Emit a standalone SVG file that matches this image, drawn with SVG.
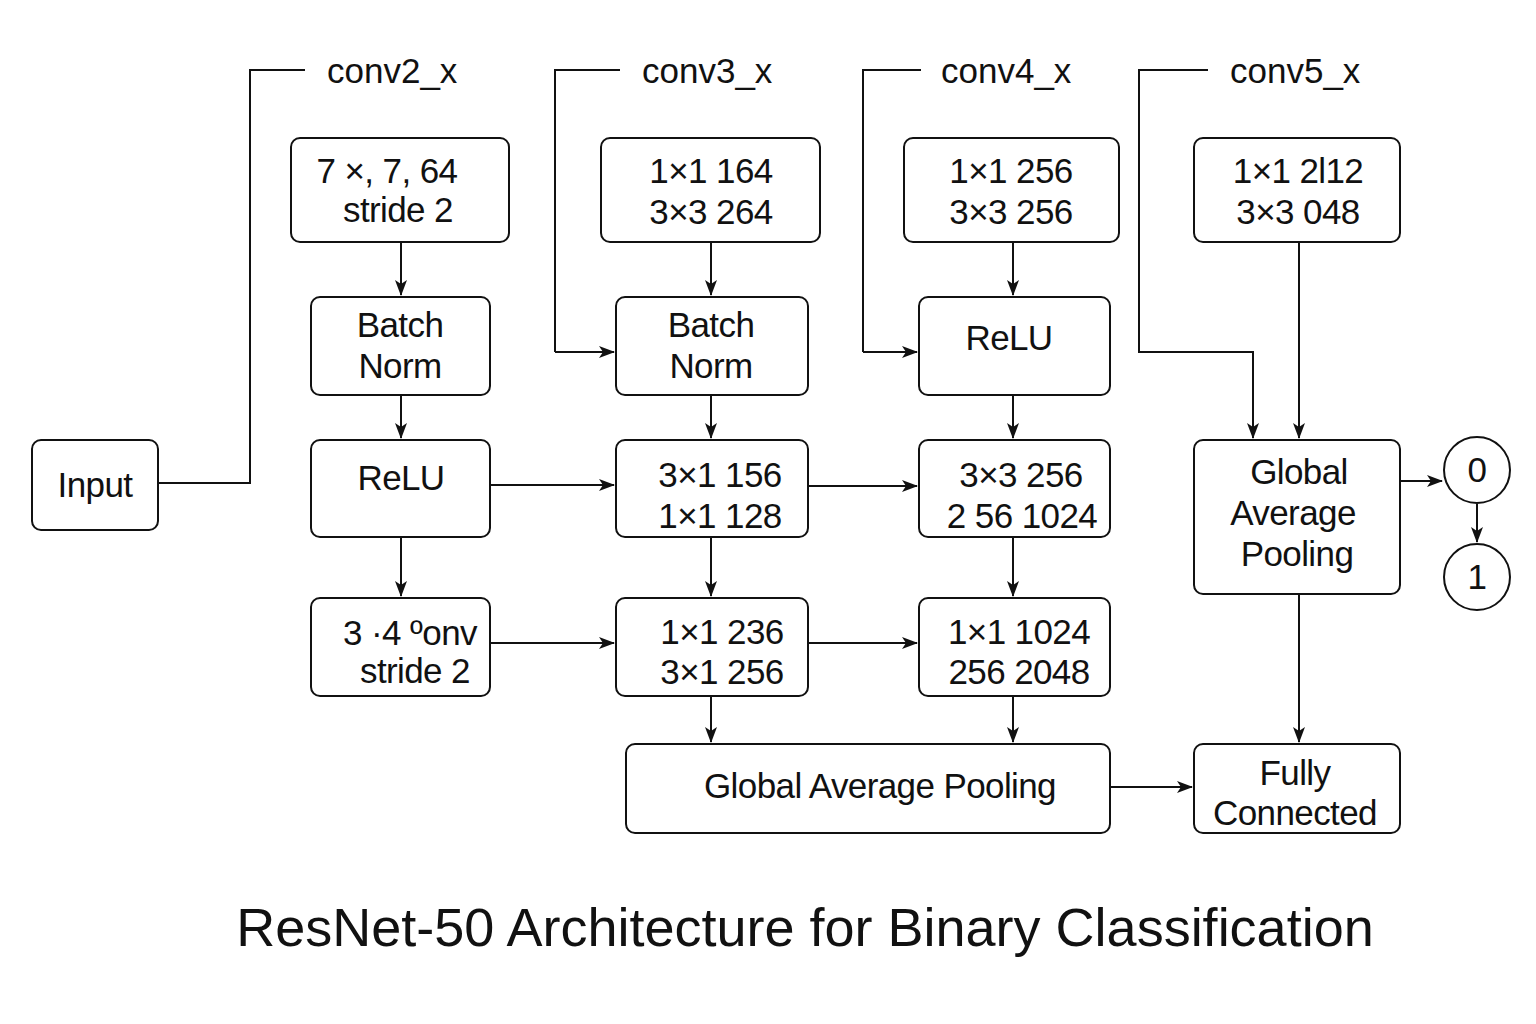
<svg xmlns="http://www.w3.org/2000/svg" width="1536" height="1024" viewBox="0 0 1536 1024">
<defs>
<marker id="ah" viewBox="0 0 16 12" refX="15" refY="6" markerWidth="16" markerHeight="12" markerUnits="userSpaceOnUse" orient="auto">
<path d="M0,0 L16,6 L0,12 L4,6 Z" fill="#111"/>
</marker>
<style>
.box{fill:#fff;stroke:#111;stroke-width:2}
.t{font-family:"Liberation Sans",Arial,sans-serif;font-size:35px;letter-spacing:-0.6px;fill:#111;text-anchor:middle}
.h{font-family:"Liberation Sans",Arial,sans-serif;font-size:35px;fill:#111}
.ln{fill:none;stroke:#111;stroke-width:2}
.ar{fill:none;stroke:#111;stroke-width:2;marker-end:url(#ah)}
.title{font-family:"Liberation Sans",Arial,sans-serif;font-size:54px;fill:#111;text-anchor:middle}
</style>
</defs>
<rect width="1536" height="1024" fill="#fff"/>

<g id="connectors">
<polyline class="ln" points="158,483 250,483 250,70 305,70"/>
<polyline class="ln" points="620,70 555,70 555,352"/>
<polyline class="ar" points="555,352 614,352"/>
<polyline class="ln" points="921,70 863,70 863,352"/>
<polyline class="ar" points="863,352 917,352"/>
<polyline class="ar" points="1208,70 1139,70 1139,352 1253,352 1253,438"/>
<line class="ar" x1="401" y1="242" x2="401" y2="295"/>
<line class="ar" x1="401" y1="395" x2="401" y2="438"/>
<line class="ar" x1="401" y1="537" x2="401" y2="596"/>
<line class="ar" x1="711" y1="242" x2="711" y2="295"/>
<line class="ar" x1="711" y1="395" x2="711" y2="438"/>
<line class="ar" x1="711" y1="537" x2="711" y2="596"/>
<line class="ar" x1="711" y1="696" x2="711" y2="742"/>
<line class="ar" x1="1013" y1="242" x2="1013" y2="295"/>
<line class="ar" x1="1013" y1="395" x2="1013" y2="438"/>
<line class="ar" x1="1013" y1="537" x2="1013" y2="596"/>
<line class="ar" x1="1013" y1="696" x2="1013" y2="742"/>
<line class="ar" x1="1299" y1="242" x2="1299" y2="438"/>
<line class="ar" x1="1299" y1="594" x2="1299" y2="742"/>
<line class="ar" x1="490" y1="485" x2="614" y2="485"/>
<line class="ar" x1="808" y1="486" x2="917" y2="486"/>
<line class="ar" x1="490" y1="643" x2="614" y2="643"/>
<line class="ar" x1="808" y1="643" x2="917" y2="643"/>
<line class="ar" x1="1110" y1="787" x2="1192" y2="787"/>
<line class="ar" x1="1400" y1="481" x2="1442" y2="481"/>
<line class="ar" x1="1477" y1="504" x2="1477" y2="542"/>
</g>

<g id="headers">
<text class="h" x="327" y="83">conv2_x</text>
<text class="h" x="642" y="83">conv3_x</text>
<text class="h" x="941" y="83">conv4_x</text>
<text class="h" x="1230" y="83">conv5_x</text>
</g>

<g id="input"><rect class="box" x="32" y="440" width="126" height="90" rx="9"/><text class="t" x="95" y="497">Input</text></g>

<g id="c2_conv"><rect class="box" x="291" y="138" width="218" height="104" rx="9"/><text class="t" x="387" y="183">7 ×, 7, 64</text><text class="t" x="398" y="222">stride 2</text></g>
<g id="c2_bn"><rect class="box" x="311" y="297" width="179" height="98" rx="9"/><text class="t" x="400" y="337">Batch</text><text class="t" x="400" y="378">Norm</text></g>
<g id="c2_relu"><rect class="box" x="311" y="440" width="179" height="97" rx="9"/><text class="t" x="401" y="490">ReLU</text></g>
<g id="c2_pool"><rect class="box" x="311" y="598" width="179" height="98" rx="9"/><text class="t" x="410" y="645">3 ·4 ºonv</text><text class="t" x="415" y="683">stride 2</text></g>

<g id="c3_top"><rect class="box" x="601" y="138" width="219" height="104" rx="9"/><text class="t" x="711" y="183">1×1 164</text><text class="t" x="711" y="224">3×3 264</text></g>
<g id="c3_bn"><rect class="box" x="616" y="297" width="192" height="98" rx="9"/><text class="t" x="711" y="337">Batch</text><text class="t" x="711" y="378">Norm</text></g>
<g id="c3_b1"><rect class="box" x="616" y="440" width="192" height="97" rx="9"/><text class="t" x="720" y="487">3×1 156</text><text class="t" x="720" y="528">1×1 128</text></g>
<g id="c3_b2"><rect class="box" x="616" y="598" width="192" height="98" rx="9"/><text class="t" x="722" y="644">1×1 236</text><text class="t" x="722" y="684">3×1 256</text></g>

<g id="c4_top"><rect class="box" x="904" y="138" width="215" height="104" rx="9"/><text class="t" x="1011" y="183">1×1 256</text><text class="t" x="1011" y="224">3×3 256</text></g>
<g id="c4_relu"><rect class="box" x="919" y="297" width="191" height="98" rx="9"/><text class="t" x="1009" y="350">ReLU</text></g>
<g id="c4_b1"><rect class="box" x="919" y="440" width="191" height="97" rx="9"/><text class="t" x="1021" y="487">3×3 256</text><text class="t" x="1022" y="528">2 56 1024</text></g>
<g id="c4_b2"><rect class="box" x="919" y="598" width="191" height="98" rx="9"/><text class="t" x="1019" y="644">1×1 1024</text><text class="t" x="1019" y="684">256 2048</text></g>

<g id="c5_top"><rect class="box" x="1194" y="138" width="206" height="104" rx="9"/><text class="t" x="1298" y="183">1×1 2l12</text><text class="t" x="1298" y="224">3×3 048</text></g>
<g id="c5_gap"><rect class="box" x="1194" y="440" width="206" height="154" rx="9"/><text class="t" x="1299" y="484">Global</text><text class="t" x="1293" y="525">Average</text><text class="t" x="1297" y="566">Pooling</text></g>
<g id="fc"><rect class="box" x="1194" y="744" width="206" height="89" rx="9"/><text class="t" x="1295" y="785">Fully</text><text class="t" x="1295" y="825">Connected</text></g>
<g id="gap_wide"><rect class="box" x="626" y="744" width="484" height="89" rx="9"/><text class="t" x="880" y="798">Global Average Pooling</text></g>

<g id="out0"><circle class="box" cx="1477" cy="470" r="33"/><text class="t" x="1477" y="482">0</text></g>
<g id="out1"><circle class="box" cx="1477" cy="577" r="33"/><text class="t" x="1477" y="589">1</text></g>

<text class="title" x="805" y="946">ResNet-50 Architecture for Binary Classification</text>
</svg>
